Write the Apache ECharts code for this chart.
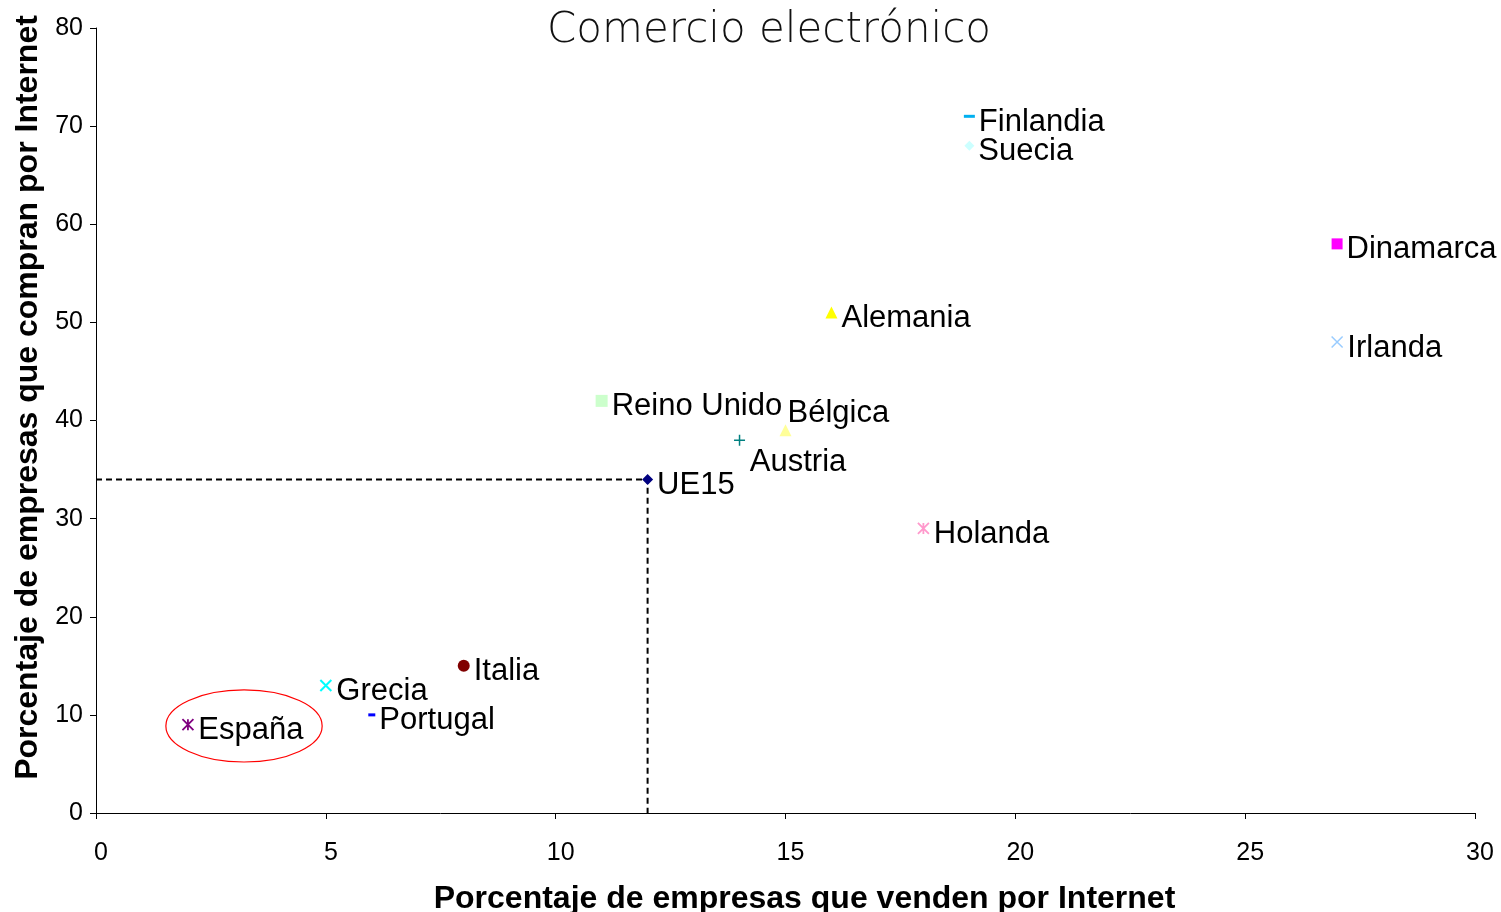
<!DOCTYPE html>
<html>
<head>
<meta charset="utf-8">
<script src="https://cdn.jsdelivr.net/npm/echarts@6/dist/echarts.min.js"></script>
<style>
html,body{margin:0;padding:0;background:#fff;}
#chart{width:1501px;height:912px;}
</style>
</head>
<body>
<div id="chart"></div>
<script>
// ---- data ----
const countries = ['Finlandia','Suecia','Dinamarca','Irlanda','Alemania','Reino Unido','Bélgica','Austria','UE15','Holanda','Italia','Grecia','Portugal','España'];
const sellPct   = [19, 19, 27, 27, 16, 11, 15, 14, 12, 18, 8, 5, 6, 2];
const buyPct    = [71, 68, 58, 48, 51, 42, 39, 38, 34, 29, 15, 13, 10, 9];
const xTicks = [0, 5, 10, 15, 20, 25, 30];
const yTicks = [0, 10, 20, 30, 40, 50, 60, 70, 80];
const refPoint = [12, 34];          // UE15 reference lines
const highlight = {x: 3.22, y: 8.87, rx: 1.70, ry: 3.67}; // ellipse around España (data units)

// ---- styles ----
const X_PATH = 'path://M0 0L10 10M10 0L0 10';
const PLUS_PATH = 'path://M5 0L5 10M0 5L10 5';
const STAR_PATH = 'path://M0 0L10 10M10 0L0 10M5 0L5 10';
const styles = {
  'Finlandia':   {symbol:'rect', size:[11,3], color:'#00B0F0'},
  'Suecia':      {symbol:'diamond', size:10, color:'#CCFFFF'},
  'Dinamarca':   {symbol:'rect', size:11, color:'#FF00FF'},
  'Irlanda':     {symbol:X_PATH, size:11, stroke:'#99CCFF', lw:1.5},
  'Alemania':    {symbol:'triangle', size:12, color:'#FFFF00'},
  'Reino Unido': {symbol:'rect', size:12, color:'#CCFFCC'},
  'Bélgica':     {symbol:'triangle', size:12, color:'#FFFF99'},
  'Austria':     {symbol:PLUS_PATH, size:11, stroke:'#008080', lw:1.5},
  'UE15':        {symbol:'diamond', size:11, color:'#000080'},
  'Holanda':     {symbol:STAR_PATH, size:11, stroke:'#FF99CC', lw:1.8},
  'Italia':      {symbol:'circle', size:12, color:'#800000'},
  'Grecia':      {symbol:X_PATH, size:11, stroke:'#00FFFF', lw:2},
  'Portugal':    {symbol:'rect', size:[7,3], color:'#0000FF'},
  'España':      {symbol:STAR_PATH, size:11, stroke:'#800080', lw:1.8}
};
const labelOffsets = {
  'Austria': [0, 22],
  'Bélgica': [-8, -17]
};

const LABEL_FONT = 'Liberation Sans, Arial, sans-serif';

const series = countries.map((name, i) => {
  const s = styles[name];
  const itemStyle = s.stroke
    ? {color:'rgba(0,0,0,0)', borderColor:s.stroke, borderWidth:s.lw, opacity:1}
    : {color:s.color, opacity:1};
  const off = labelOffsets[name] || [0, 6];
  return {
    type:'scatter',
    name:name,
    data:[[sellPct[i], buyPct[i]]],
    symbol:s.symbol,
    symbolSize:s.size,
    itemStyle:itemStyle,
    z: 3,
    label:{
      show:true,
      position:'right',
      distance:4,
      offset:off,
      formatter:name,
      color:'#000000',
      opacity:1,
      textBorderWidth:0,
      fontFamily:LABEL_FONT,
      fontSize:31
    },
    emphasis:{disabled:true}
  };
});

// reference dashed lines
series.push({
  type:'line',
  data:[[xTicks[0], refPoint[1]], [refPoint[0], refPoint[1]], [refPoint[0], yTicks[0]]],
  symbol:'none',
  lineStyle:{color:'#000', width:2, type:[6,4]},
  z:2,
  silent:true
});

const chart = echarts.init(document.getElementById('chart'), null, {renderer:'canvas'});
chart.setOption({
  animation:false,
  backgroundColor:'#fff',
  title:{
    text:'Comercio electrónico',
    left:764, top:5, textAlign:'center',
    textStyle:{fontFamily:'DejaVu Sans', fontWeight:'lighter', fontSize:42, color:'#111'}
  },
  grid:{left:96, right:26, top:28, bottom:99, containLabel:false, outerBoundsMode:'none'},
  xAxis:{
    type:'value', min:xTicks[0], max:xTicks[xTicks.length-1], interval:5,
    name:'Porcentaje de empresas que venden por Internet',
    nameLocation:'middle', nameGap:70,
    nameTextStyle:{fontFamily:LABEL_FONT, fontWeight:'bold', fontSize:32, color:'#000', padding:[0,0,0,38]},
    axisLine:{onZero:false, lineStyle:{color:'#000', width:1}},
    axisTick:{show:true, length:6, lineStyle:{color:'#000'}},
    axisLabel:{fontFamily:LABEL_FONT, fontSize:25, color:'#000', margin:28, padding:[0,0,0,10]},
    splitLine:{show:false}
  },
  yAxis:{
    type:'value', min:yTicks[0], max:yTicks[yTicks.length-1], interval:10,
    name:'Porcentaje de empresas que compran por Internet',
    nameLocation:'middle', nameGap:52, nameRotate:90,
    nameTextStyle:{fontFamily:LABEL_FONT, fontWeight:'bold', fontSize:32, color:'#000', padding:[0,0,0,46]},
    axisLine:{show:true, onZero:false, lineStyle:{color:'#000', width:1}},
    axisTick:{show:true, length:6, lineStyle:{color:'#000'}},
    axisLabel:{fontFamily:LABEL_FONT, fontSize:25, color:'#000', margin:13},
    splitLine:{show:false}
  },
  series:series
});

// ellipse annotation around España, placed through the chart's own scales
const c = chart.convertToPixel({gridIndex:0}, [highlight.x, highlight.y]);
const e = chart.convertToPixel({gridIndex:0}, [highlight.x + highlight.rx, highlight.y + highlight.ry]);
chart.setOption({
  graphic:[{
    type:'ellipse',
    shape:{cx:c[0], cy:c[1], rx:Math.abs(e[0]-c[0]), ry:Math.abs(c[1]-e[1])},
    style:{fill:'none', stroke:'#FF0000', lineWidth:1.2},
    z:10, silent:true
  }]
});
</script>
</body>
</html>
